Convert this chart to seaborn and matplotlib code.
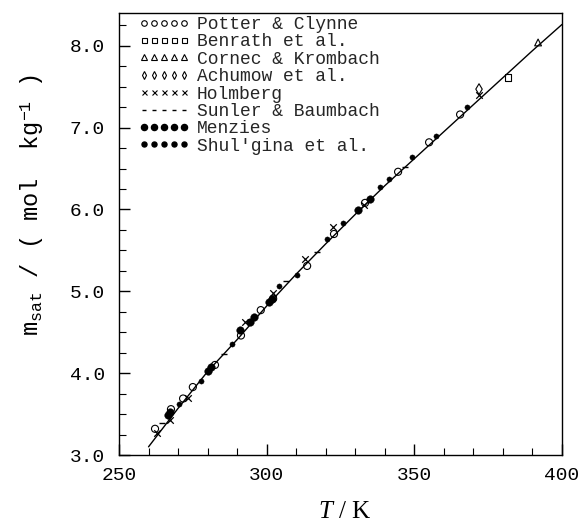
import matplotlib
matplotlib.use("Agg")
import matplotlib.pyplot as plt
from matplotlib.lines import Line2D
from matplotlib.ticker import MultipleLocator, FormatStrFormatter
import seaborn as sns

# ---- data ----
potter_T = [262.2, 267.6, 271.7, 275.0, 282.5, 291.3, 298.0, 302.2, 313.7, 322.8, 333.3, 344.5, 355.0, 365.5]
potter_m = [3.32, 3.56, 3.69, 3.83, 4.10, 4.46, 4.77, 4.91, 5.31, 5.70, 6.08, 6.46, 6.82, 7.16]

benrath_T = [381.7]
benrath_m = [7.61]

cornec_T = [391.9]
cornec_m = [8.04]

achumow_T = [371.9]
achumow_m = [7.47]

holmberg_T = [262.9, 267.3, 273.4, 292.7, 302.2, 313.0, 322.5, 333.0, 371.9]
holmberg_m = [3.27, 3.43, 3.70, 4.62, 4.98, 5.39, 5.78, 6.05, 7.40]

sunler_T = [264.5, 285.5, 306.5, 317.0, 346.8]
sunler_m = [3.39, 4.24, 5.12, 5.48, 6.52]

menzies_T = [266.6, 267.4, 280.1, 281.2, 291.0, 294.4, 295.7, 300.8, 301.8, 330.9, 335.0]
menzies_m = [3.49, 3.52, 4.03, 4.07, 4.53, 4.62, 4.69, 4.87, 4.90, 5.99, 6.13]

shulgina_T = [270.3, 277.8, 288.3, 304.2, 310.3, 320.4, 325.9, 338.4, 341.4, 349.2, 357.3, 367.8]
shulgina_m = [3.62, 3.91, 4.36, 5.06, 5.20, 5.64, 5.84, 6.28, 6.37, 6.64, 6.90, 7.25]

fit_T = [260, 270, 280, 290, 300, 310, 320, 330, 340, 350, 360, 370, 380, 390, 400]
fit_m = [3.10, 3.57, 4.02, 4.41, 4.82, 5.21, 5.58, 5.94, 6.29, 6.62, 6.95, 7.28, 7.61, 7.94, 8.26]

labels = ["Potter & Clynne", "Benrath et al.", "Cornec & Krombach", "Achumow et al.",
          "Holmberg", "Sunler & Baumbach", "Menzies", "Shul'gina et al."]

sns.set_theme(style="ticks")
plt.rcParams["font.family"] = ["Liberation Mono", "DejaVu Sans Mono"]
plt.rcParams["mathtext.fontset"] = "custom"
plt.rcParams["mathtext.rm"] = "Liberation Mono"
plt.rcParams["mathtext.it"] = "Liberation Serif:italic"

fig = plt.figure(figsize=(5.84, 5.23), dpi=100)
ax = fig.add_axes([119 / 584, 68 / 523, 443 / 584, 442 / 523])

k = "black"
sns.lineplot(x=fit_T, y=fit_m, ax=ax, color=k, linewidth=1.0, sort=False)

open_kw = dict(facecolor="none", edgecolor=k, linewidth=0.8, ax=ax, legend=False)
sns.scatterplot(x=potter_T, y=potter_m, marker="o", s=26, **open_kw)
sns.scatterplot(x=benrath_T, y=benrath_m, marker="s", s=22, **open_kw)
sns.scatterplot(x=cornec_T, y=cornec_m, marker="^", s=24, **open_kw)
sns.scatterplot(x=achumow_T, y=achumow_m, marker="d", s=30, **open_kw)
sns.scatterplot(x=holmberg_T, y=holmberg_m, marker="x", s=22, color=k, linewidth=0.9, ax=ax, legend=False)
sns.scatterplot(x=sunler_T, y=sunler_m, marker="_", s=14, color=k, linewidth=1.0, ax=ax, legend=False)
sns.scatterplot(x=menzies_T, y=menzies_m, marker="o", s=30, color=k, edgecolor=k, linewidth=0.3, ax=ax, legend=False)
sns.scatterplot(x=shulgina_T, y=shulgina_m, marker="o", s=14, color=k, edgecolor=k, linewidth=0.3, ax=ax, legend=False)

ax.set_xlim(250, 400)
ax.set_ylim(3.0, 8.4)
ax.xaxis.set_major_locator(MultipleLocator(50))
ax.xaxis.set_minor_locator(MultipleLocator(10))
ax.yaxis.set_major_locator(MultipleLocator(1.0))
ax.yaxis.set_minor_locator(MultipleLocator(0.25))
ax.yaxis.set_major_formatter(FormatStrFormatter("%.1f"))
ax.tick_params(which="both", direction="in", top=False, right=False, colors=k, labelsize=14)
ax.tick_params(which="major", length=8, width=1.0)
ax.tick_params(which="minor", length=5, width=0.8)
ax.tick_params(axis="x", which="major", pad=9)
ax.tick_params(axis="y", which="major", pad=10)
for s in ax.spines.values():
    s.set_color(k)
    s.set_linewidth(1.0)
    s.set_visible(True)

ax.set_xlabel(r"$T$ / K", fontsize=18, family=["Liberation Serif"], color=k)
ax.xaxis.set_label_coords(0.51, -0.105)
ax.set_ylabel(r"m$_{\mathrm{sat}}$ / ( mol  kg$^{-1}$ )", fontsize=17,
              family=["Liberation Mono"], color=k)
ax.yaxis.set_label_coords(-0.165, 0.566)

handles = [
    Line2D([], [], ls="none", marker="o", mfc="none", mec=k, ms=4, mew=0.8),
    Line2D([], [], ls="none", marker="s", mfc="none", mec=k, ms=3.6, mew=0.8),
    Line2D([], [], ls="none", marker="^", mfc="none", mec=k, ms=4, mew=0.8),
    Line2D([], [], ls="none", marker="d", mfc="none", mec=k, ms=4.2, mew=0.8),
    Line2D([], [], ls="none", marker="x", color=k, ms=3.6, mew=0.8),
    Line2D([], [], ls="none", marker="_", color=k, ms=3.2, mew=1.0),
    Line2D([], [], ls="none", marker="o", color=k, ms=4.4),
    Line2D([], [], ls="none", marker="o", color=k, ms=3.6),
]
ax.legend(handles=handles, labels=labels, loc="upper left", bbox_to_anchor=(0.045, 0.993),
          frameon=False, numpoints=5, fontsize=13, handlelength=2.8, handletextpad=0.4,
          labelspacing=0.02, borderpad=0.0, borderaxespad=0.0)

fig.savefig("out.png", dpi=100, facecolor="white")
